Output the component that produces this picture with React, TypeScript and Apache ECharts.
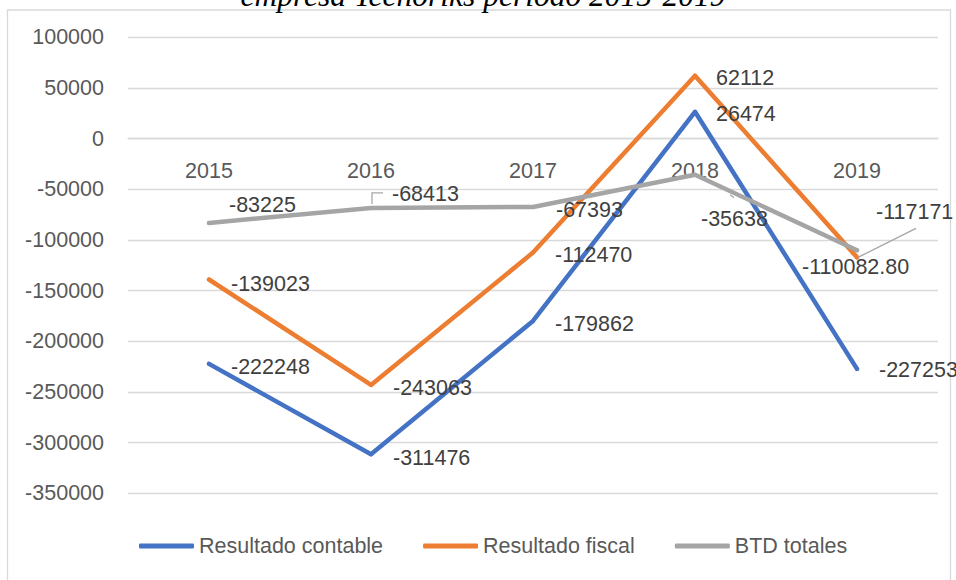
import { useEffect, useRef } from "react";
import * as echarts from "echarts";

const years = ["2015", "2016", "2017", "2018", "2019"];
const seriesNames = ["Resultado contable", "Resultado fiscal", "BTD totales"];
const resultadoContable = [-222248, -311476, -179862, 26474, -227253];
const resultadoFiscal = [-139023, -243063, -112470, 62112, -117171];
const btdTotales = [-83225, -68413, -67393, -35638, -110082.8];
const yMin = -350000;
const yMax = 100000;
const yInterval = 50000;
const titleText = "empresa Tecnoriks periodo 2015-2019";

const colors = ["#4472C4", "#ED7D31", "#A5A5A5"];

// label offsets (dx from point to label left edge, dy from point to label middle)
const offsetsContable = [[20, 3], [20, 4], [20, 3], [19, 2], [20, 1]];
const offsetsFiscal = [[20, 4], [20, 3], [20, 2], [19, 2], [17, -45]];
const offsetsBtd = [[18, -18], [19, -14], [21, 3], [4, 44], [-57, 17]];

const FONT = "'Liberation Sans', Arial, sans-serif";
const FS = 21.5;

const GRID_TOP = 37.3;
const GRID_BOTTOM = 86.7;
const CHART_H = 580;

function fmt(v: number) {
  return Number.isInteger(v) ? String(v) : v.toFixed(2);
}

function buildData(values: number[], offsets: number[][]) {
  return values.map((v, i) => ({
    value: v,
    label: { offset: offsets[i] },
  }));
}

export default function App() {
  const ref = useRef<HTMLDivElement>(null);
  useEffect(() => {
    document.body.style.margin = "0";
    if (!ref.current) return;
    const chart = echarts.init(ref.current, null, { renderer: "svg" });
    const gridH = CHART_H - GRID_TOP - GRID_BOTTOM;
    const zeroOffset = -(gridH * (0 - yMin)) / (yMax - yMin);
    const labelBase = {
      show: true,
      position: "right" as const,
      distance: 0,
      fontFamily: FONT,
      fontSize: FS,
      color: "#404040",
      formatter: (p: any) => fmt(p.value as number),
    };
    const mkSeries = (name: string, data: any[], color: string) => ({
      name,
      type: "line",
      data,
      symbol: "circle",
      symbolSize: 4,
      itemStyle: { color },
      lineStyle: { color, width: 4.5, cap: "round", join: "round" },
      label: labelBase,
      emphasis: { disabled: true },
      silent: true,
    });
    chart.setOption({
      animation: false,
      backgroundColor: "#ffffff",
      grid: { left: 128, right: 18, top: GRID_TOP, bottom: GRID_BOTTOM, containLabel: false },
      xAxis: {
        type: "category",
        data: years,
        boundaryGap: true,
        position: "bottom",
        offset: zeroOffset,
        axisLine: { show: true, onZero: false, lineStyle: { color: "#d9d9d9", width: 1.3 } },
        axisTick: { show: false },
        axisLabel: { margin: 21, fontFamily: FONT, fontSize: FS, color: "#595959" },
        splitLine: { show: false },
      },
      yAxis: {
        type: "value",
        min: yMin,
        max: yMax,
        interval: yInterval,
        axisLine: { show: false },
        axisTick: { show: false },
        axisLabel: {
          margin: 24,
          fontFamily: FONT,
          fontSize: FS,
          color: "#595959",
          formatter: (v: number) => String(v),
        },
        splitLine: { show: true, lineStyle: { color: "#d9d9d9", width: 1.3 } },
      },
      legend: {
        data: seriesNames,
        left: 134,
        top: 530,
        icon: "roundRect",
        itemWidth: 55,
        itemHeight: 5,
        itemGap: 40,
        textStyle: { fontFamily: FONT, fontSize: FS, color: "#595959" },
        selectedMode: false,
      },
      series: [
        mkSeries(seriesNames[0], buildData(resultadoContable, offsetsContable), colors[0]),
        mkSeries(seriesNames[1], buildData(resultadoFiscal, offsetsFiscal), colors[1]),
        mkSeries(seriesNames[2], buildData(btdTotales, offsetsBtd), colors[2]),
      ],
    });

    const px = (i: number, v: number) =>
      chart.convertToPixel({ gridIndex: 0 }, [i, v]) as number[];
    const pF = px(4, resultadoFiscal[4]);
    const pB1 = px(1, btdTotales[1]);
    const pB3 = px(3, btdTotales[3]);
    const leaderStyle = { stroke: "#A6A6A6", lineWidth: 1.3, fill: "none" };

    chart.setOption({
      graphic: [
        {
          type: "rect",
          shape: { x: 7.5, y: 10, width: 943, height: 620 },
          style: { fill: "none", stroke: "#d9d9d9", lineWidth: 1.3 },
          silent: true,
          z: -1,
        },
        {
          type: "text",
          x: 483,
          y: -5,
          style: {
            text: titleText,
            fontFamily: "'Liberation Serif', 'Times New Roman', serif",
            fontStyle: "italic",
            fontSize: 31.5,
            fill: "#000000",
            textAlign: "center",
            textVerticalAlign: "middle",
          },
          silent: true,
        },
        {
          type: "polyline",
          shape: { points: [[pF[0] + 1, pF[1]], [pF[0] + 59, pF[1] - 29]] },
          style: leaderStyle,
          silent: true,
          z: 10,
        },
        {
          type: "polyline",
          shape: {
            points: [
              [pB1[0] + 1, pB1[1] - 4],
              [pB1[0] + 1, pB1[1] - 15],
              [pB1[0] + 12, pB1[1] - 15],
            ],
          },
          style: leaderStyle,
          silent: true,
          z: 10,
        },
        {
          type: "polyline",
          shape: { points: [[pB3[0] + 35, pB3[1] + 20], [pB3[0] + 39, pB3[1] + 23]] },
          style: leaderStyle,
          silent: true,
          z: 10,
        },
      ],
    });
    return () => chart.dispose();
  }, []);
  return <div ref={ref} style={{ width: 956, height: 580 }} />;
}
